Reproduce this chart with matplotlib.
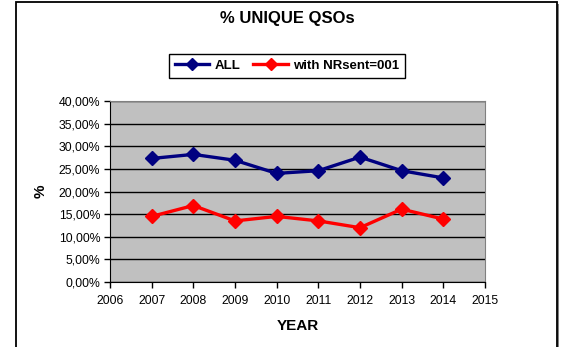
import matplotlib
matplotlib.use("Agg")
import matplotlib.pyplot as plt
from matplotlib.patches import Rectangle
from matplotlib.ticker import FuncFormatter, MultipleLocator

plt.rcParams['font.family'] = ['Liberation Sans', 'DejaVu Sans']

years = [2007, 2008, 2009, 2010, 2011, 2012, 2013, 2014]
all_qsos = [27.3, 28.2, 26.9, 24.0, 24.6, 27.6, 24.6, 23.0]
nrsent_001 = [14.5, 16.9, 13.5, 14.5, 13.5, 12.0, 16.1, 13.9]

W, H = 562, 347
fig = plt.figure(figsize=(W / 100, H / 100), dpi=100)

# chart frame with a small shadow on the right
fig.patches.append(Rectangle((18 / W, -0.05), 541 / W, 1.05 - 4 / H, transform=fig.transFigure,
                             facecolor='#808080', edgecolor='none', zorder=-2))
fig.patches.append(Rectangle((16 / W, -0.05), 541 / W, 1.05 - 2 / H, transform=fig.transFigure,
                             facecolor='white', edgecolor='black', linewidth=1.3, zorder=-1))

ax = fig.add_axes([110 / W, 1 - 282 / H, 375 / W, 181 / H])
ax.set_facecolor('#C0C0C0')
ax.plot(years, all_qsos, color='#000080', lw=2.4, marker='D', ms=7.5, label='ALL')
ax.plot(years, nrsent_001, color='#FF0000', lw=2.4, marker='D', ms=7.5, label='with NRsent=001')

ax.set_xlim(2006, 2015)
ax.set_ylim(0, 40)
ax.xaxis.set_major_locator(MultipleLocator(1))
ax.yaxis.set_major_locator(MultipleLocator(5))
ax.yaxis.set_major_formatter(FuncFormatter(lambda v, p: f"{v:.2f}%".replace('.', ',')))
ax.grid(axis='y', color='black', lw=1)
ax.set_axisbelow(True)
ax.tick_params(direction='out', length=4, width=1, labelsize=8.8, colors='black')
ax.tick_params(axis='y', pad=3)
ax.tick_params(axis='x', pad=5)
for s in ['top', 'right']:
    ax.spines[s].set_color('#808080')
for s in ['left', 'bottom']:
    ax.spines[s].set_color('black')

ax.set_xlabel('YEAR', fontsize=11, fontweight='bold', labelpad=9)
ax.set_ylabel('%', fontsize=11, fontweight='bold', labelpad=8)

fig.text(287 / W, 1 - 18 / H, '% UNIQUE QSOs', ha='center', va='center',
         fontsize=12, fontweight='bold')

leg = fig.legend(loc='center', bbox_to_anchor=(287 / W, 1 - 66 / H), ncol=2,
                 fancybox=False, edgecolor='black', framealpha=1,
                 prop={'weight': 'bold', 'size': 9.5}, handlelength=2.6,
                 columnspacing=1.0, handletextpad=0.4, borderpad=0.45,
                 markerscale=0.75)
leg.get_frame().set_linewidth(1)

fig.savefig('out.png', dpi=100)
